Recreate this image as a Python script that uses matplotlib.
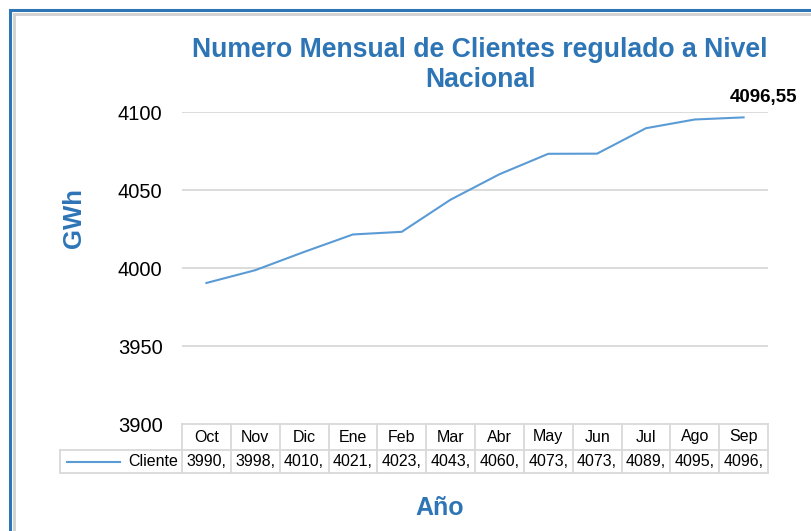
import matplotlib
matplotlib.use("Agg")
import matplotlib.pyplot as plt
from matplotlib.lines import Line2D
from matplotlib.patches import Rectangle

plt.rcParams['font.family'] = ['Liberation Sans', 'DejaVu Sans']

meses = ["Oct", "Nov", "Dic", "Ene", "Feb", "Mar", "Abr", "May", "Jun", "Jul", "Ago", "Sep"]
clientes = [3990.4, 3998.6, 4010.3, 4021.5, 4023.2, 4043.8, 4060.1, 4073.2, 4073.3, 4089.6, 4095.2, 4096.55]
serie = "Cliente"
yticks = [3900, 3950, 4000, 4050, 4100]
titulo = ["Numero Mensual de Clientes regulado a Nivel", "Nacional"]

W, H = 811, 531
blue = "#2E75B6"
line_c = "#5B9BD5"
grid_c = "#D9D9D9"

fig = plt.figure(figsize=(W / 100, H / 100), dpi=100)

# frame of the chart object
fig.add_artist(Rectangle((10 / W, -0.1), 1.2, (H - 10) / H + 0.1, transform=fig.transFigure,
                         fill=False, ec=blue, lw=2.2))
fig.add_artist(Rectangle((14 / W, -0.1), 1.2, (H - 14) / H + 0.1, transform=fig.transFigure,
                         fill=False, ec="#D0D0D0", lw=2))

left, right, top, bot = 182, 768, 112, 424
ax = fig.add_axes([left / W, (H - bot) / H, (right - left) / W, (bot - top) / H])
n = len(meses)
ax.set_xlim(-0.5, n - 0.5)
ax.set_ylim(3900, 4100)
ax.set_yticks(yticks)
ax.set_yticklabels([str(t) for t in yticks], fontsize=14.5)
ax.tick_params(axis='y', length=0, pad=14)
ax.set_xticks([])
for s in ax.spines.values():
    s.set_visible(False)
for t in yticks[1:]:
    ax.axhline(t, color=grid_c, lw=1.3, zorder=0)

ax.plot(range(n), clientes, color=line_c, lw=1.5)
ax.annotate(f"{clientes[-1]:.2f}".replace(".", ","), (n - 1, clientes[-1]),
            xytext=(14, 14), textcoords="offset points", ha="center", va="center",
            fontsize=13.5, fontweight="bold", color="black", annotation_clip=False)

# data table under the plot
axh = bot - top
r1 = -26 / axh
r2 = -49 / axh
tr = ax.get_xaxis_transform()
tb = dict(color=grid_c, lw=1.3, transform=tr, clip_on=False)
ax.add_line(Line2D([-0.5, n - 0.5], [0, 0], **tb))
ax.add_line(Line2D([-3.0, n - 0.5], [r1, r1], **tb))
ax.add_line(Line2D([-3.0, n - 0.5], [r2, r2], **tb))
ax.add_line(Line2D([-3.0, -3.0], [r1, r2], **tb))
for i in range(n + 1):
    ax.add_line(Line2D([i - 0.5, i - 0.5], [0, r2], **tb))
for i, (m, v) in enumerate(zip(meses, clientes)):
    ax.text(i, r1 / 2, m, transform=tr, ha="center", va="center", fontsize=11.5)
    ax.text(i, (r1 + r2) / 2, f"{int(v)},", transform=tr, ha="center", va="center", fontsize=11.5)
ax.add_line(Line2D([-2.85, -1.77], [(r1 + r2) / 2] * 2, color=line_c, lw=1.5,
                   transform=tr, clip_on=False))
ax.text(-0.58, (r1 + r2) / 2, serie, transform=tr, ha="right", va="center", fontsize=11.5)

for k, linea in enumerate(titulo):
    fig.text(480 / W, 1 - (50 + 30 * k) / H, linea, ha="center", va="center",
             fontsize=19.2, fontweight="bold", color=blue)
fig.text(74 / W, 1 - 218 / H, "GWh", rotation=90, ha="center", va="center",
         fontsize=18.5, fontweight="bold", color=blue)
fig.text(440 / W, 1 - 508 / H, "Año", ha="center", va="center",
         fontsize=18, fontweight="bold", color=blue)

fig.savefig("out.png", dpi=100)
